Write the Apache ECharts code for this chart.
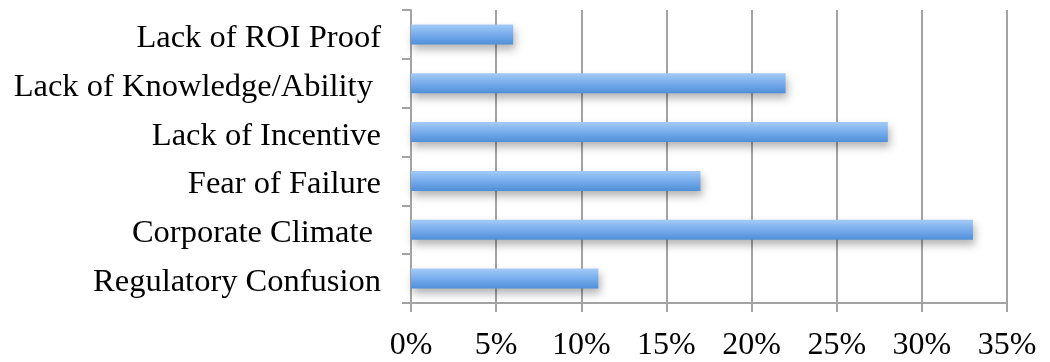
<!DOCTYPE html>
<html>
<head>
<meta charset="utf-8">
<script src="https://cdn.jsdelivr.net/npm/echarts@6/dist/echarts.min.js"></script>
<style>
  html, body { margin: 0; padding: 0; background: #fff; }
  #chart { width: 1050px; height: 362px; }
</style>
</head>
<body>
<div id="chart"></div>
<script>
// categories bottom -> top (trailing spaces kept as in the original labels)
const categories = [
  'Regulatory Confusion',
  'Corporate Climate ',
  'Fear of Failure',
  'Lack of Incentive',
  'Lack of Knowledge/Ability ',
  'Lack of ROI Proof'
];
const shares = [11, 33, 17, 28, 22, 6];
const tickMax = 35;
const tickStep = 5;

const gray = '#a3a3a3';
const font = '"Liberation Serif", serif';

const chart = echarts.init(document.getElementById('chart'));
chart.setOption({
  animation: false,
  grid: { left: 411, right: 43, top: 10, bottom: 58 },
  xAxis: {
    type: 'value',
    min: 0,
    max: tickMax,
    interval: tickStep,
    axisLine: { show: true, lineStyle: { color: gray, width: 2 } },
    axisTick: { show: true, length: 9, lineStyle: { color: gray, width: 2 } },
    splitLine: { show: true, lineStyle: { color: gray, width: 2 } },
    axisLabel: {
      formatter: '{value}%',
      color: '#000',
      fontFamily: font,
      fontSize: 32,
      margin: 27
    }
  },
  yAxis: {
    type: 'category',
    data: categories,
    axisLine: { show: true, lineStyle: { color: gray, width: 2 } },
    axisTick: { show: true, length: 9, lineStyle: { color: gray, width: 2 } },
    axisLabel: {
      interval: 0,
      color: '#000',
      fontFamily: font,
      fontSize: 32.5,
      margin: 30,
      verticalAlign: 'top',
      lineHeight: 8
    }
  },
  series: [{
    type: 'bar',
    data: shares,
    barWidth: 20,
    itemStyle: {
      color: new echarts.graphic.LinearGradient(0, 0, 0, 1, [
        { offset: 0, color: '#a3cbf6' },
        { offset: 0.5, color: '#78acec' },
        { offset: 1, color: '#4f8fd8' }
      ]),
      shadowColor: 'rgba(0,0,0,0.3)',
      shadowBlur: 8,
      shadowOffsetX: 2,
      shadowOffsetY: 5
    }
  }]
});
</script>
</body>
</html>
